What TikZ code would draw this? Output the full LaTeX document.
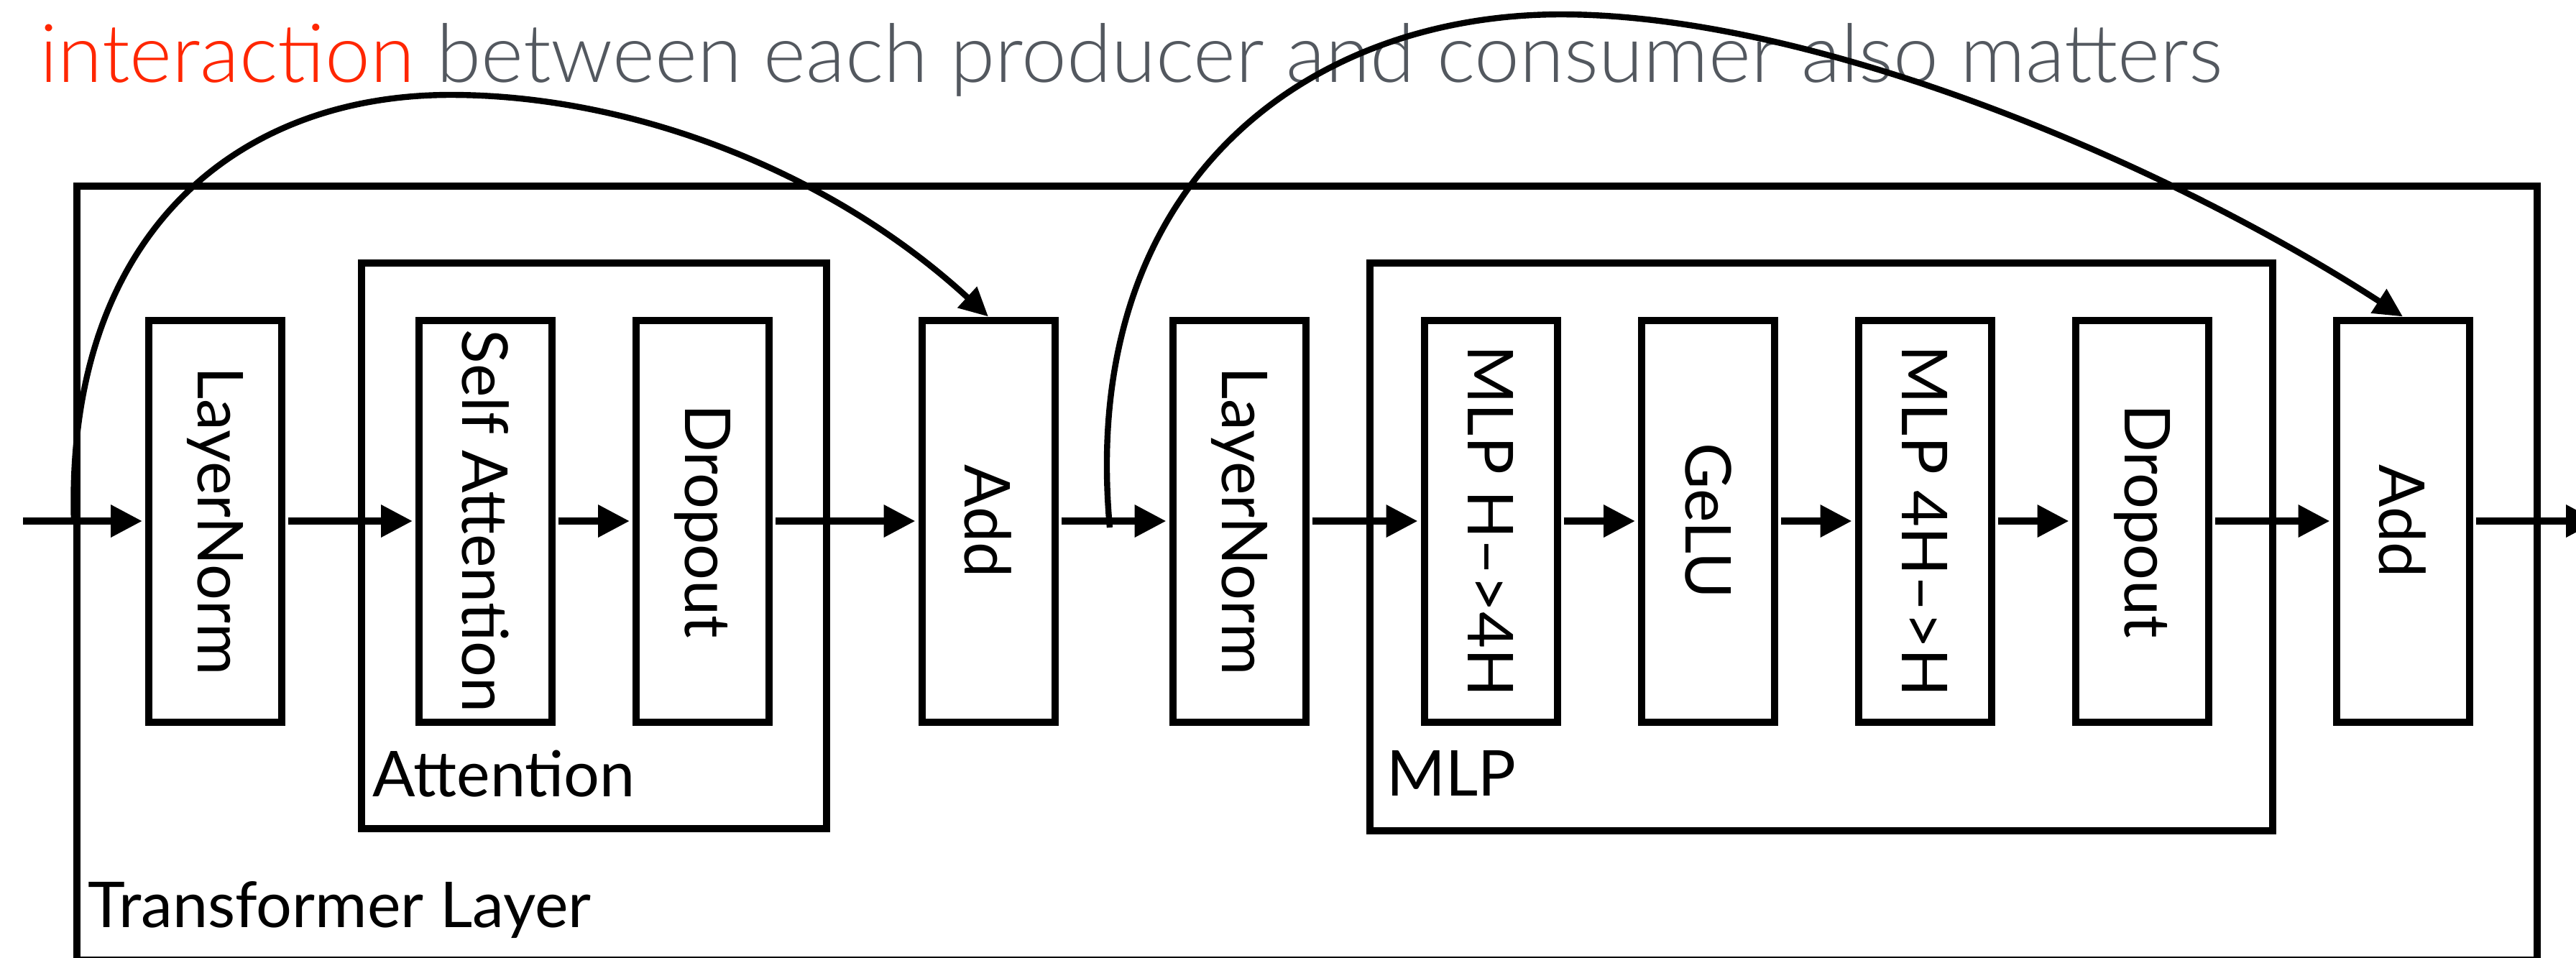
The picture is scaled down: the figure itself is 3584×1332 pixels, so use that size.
\documentclass[tikz,border=0pt]{standalone}
\usepackage{fontspec}
\setmainfont{Lato}
\newfontfamily\lightfam{Lato Light}
\usetikzlibrary{arrows.meta}
\definecolor{tred}{RGB}{255,38,0}
\definecolor{tgray}{RGB}{83,88,95}
\newcommand{\lblfont}{\fontsize{22}{26}\selectfont}
\newcommand{\ttlfont}{\lightfam\fontsize{28.2}{32}\selectfont}
\begin{document}
\begin{tikzpicture}[x=0.25pt,y=-0.25pt,
  blk/.style={draw, line width=2.5pt, minimum width=46.25pt, minimum height=139.75pt,
    inner sep=0pt, outer sep=1.25pt, font=\lblfont},
  frm/.style={draw, line width=2.5pt},
  lbl/.style={anchor=base west, inner sep=0pt, font=\lblfont},
  arr/.style={line width=2.5pt, -{Triangle[length=11pt,width=10.75pt]},
    shorten >=1pt, shorten <=1pt},
  skip/.style={line width=2.1pt, -{Triangle[length=10pt,width=9.5pt]}}]
\useasboundingbox (0,0) rectangle (3584,1332);
\clip (0,0) rectangle (3584,1332);

% title
\node[anchor=base west, inner sep=0pt, font=\ttlfont] (title) at (55,114)
  {\textcolor{tred}{interaction} \textcolor{tgray}{between each producer and consumer also matters}};

% containers
\draw[frm] (107,259) rectangle (3530,1336);
\draw[frm] (503,366) rectangle (1150,1153);
\draw[frm] (1906,366) rectangle (3162,1156);
\node[lbl] (tl) at (122,1290) {Transformer Layer};
\node[lbl] (al) at (518,1108) {Attention};
\node[lbl] (ml) at (1929,1107) {MLP};

% blocks
\node[blk] (ln1)  at (299.5,725) {\rotatebox{-90}{LayerNorm}};
\node[blk] (sa)   at (675.5,725) {\rotatebox{-90}{Self Attention}};
\node[blk] (do1)  at (977.5,725) {\rotatebox{-90}{Dropout}};
\node[blk] (add1) at (1375,725)  {\rotatebox{-90}{Add}};
\node[blk] (ln2)  at (1724,725)  {\rotatebox{-90}{LayerNorm}};
\node[blk] (h4h)  at (2074,725)  {\rotatebox{-90}{MLP H–>4H}};
\node[blk] (gelu) at (2376.5,725){\rotatebox{-90}{GeLU}};
\node[blk] (hh4)  at (2678,725)  {\rotatebox{-90}{MLP 4H–>H}};
\node[blk] (do2)  at (2980,725)  {\rotatebox{-90}{Dropout}};
\node[blk] (add2) at (3343,725)  {\rotatebox{-90}{Add}};

\coordinate (in) at (28,725);
\coordinate (out) at (3614,725);
\coordinate (s1) at (103,728);
\coordinate (s2) at (1544,734);
\coordinate (p1) at (627,132);
\coordinate (p2) at (2172,20);

% main flow
\draw[arr] (in) -- (ln1);
\draw[arr] (ln1) -- (sa);
\draw[arr] (sa) -- (do1);
\draw[arr] (do1) -- (add1);
\draw[arr] (add1) -- (ln2);
\draw[arr] (ln2) -- (h4h);
\draw[arr] (h4h) -- (gelu);
\draw[arr] (gelu) -- (hh4);
\draw[arr] (hh4) -- (do2);
\draw[arr] (do2) -- (add2);
\draw[arr,shorten >=0pt] (add2) -- (out);

% residual connections
\draw[skip] (s1) .. controls (90,328) and (327,132) .. (p1)
  .. controls (877,132) and (1154,237) .. (add1.north);
\draw[skip] (s2) .. controls (1500,250) and (1822,20) .. (p2)
  .. controls (2522,20) and (3007,223) .. (add2.north);
\end{tikzpicture}
\end{document}
